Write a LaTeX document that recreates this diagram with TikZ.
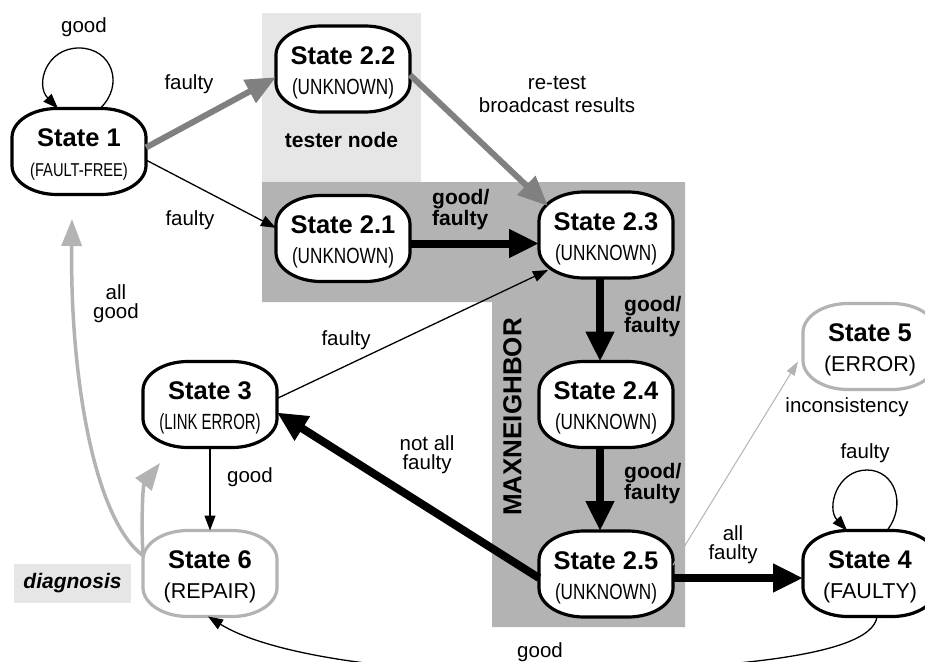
\documentclass[tikz,border=0pt]{standalone}
\usepackage{fontspec}
\setmainfont{Liberation Sans}
\usepackage{graphicx}
\usetikzlibrary{arrows.meta,calc}

\definecolor{boxdark}{HTML}{B3B3B3}
\definecolor{boxlight}{HTML}{E6E6E6}
\definecolor{arrgray}{HTML}{808080}
\definecolor{faint}{HTML}{B3B3B3}

% state title (bold, with a fixed-height strut) and a possibly condensed subtitle
\newcommand\stitle[1]{\rule{0pt}{20pt}{\fontsize{25.5}{30}\selectfont\bfseries #1}}
\newcommand\ssub[3]{{\fontsize{#1}{30}\selectfont\scalebox{#2}[1]{#3}}}
% a state: white oval box with elliptical corners, then the named text node on it
\newcommand\statenode[4]{%
  \draw[line width=3.2pt, fill=white, draw=#3] (#2) ++(-67,-14)
    arc[start angle=180, end angle=270, x radius=45, y radius=29] -- ++(44,0)
    arc[start angle=270, end angle=360, x radius=45, y radius=29] -- ++(0,28)
    arc[start angle=0, end angle=90, x radius=45, y radius=29] -- ++(-44,0)
    arc[start angle=90, end angle=180, x radius=45, y radius=29] -- cycle;
  \node[state] (#1) at (#2) {#4};}

\begin{document}
\begin{tikzpicture}[x=1pt,y=-1pt,
  state/.style={minimum width=134pt, minimum height=86pt, inner sep=0pt,
    outer sep=0pt, align=center, text depth=0pt, font=\fontsize{21}{30}\selectfont},
  lab/.style={font=\fontsize{20.5}{19}\selectfont, align=center, inner sep=0pt},
  blab/.style={font=\fontsize{21}{21}\selectfont\bfseries, align=left, inner sep=0pt},
  edgefine/.style={line width=1.3pt, -{Triangle[length=15pt,width=11pt]}},
  edgeheavy/.style={line width=8pt, -{Triangle[length=30pt,width=27pt]}},
  edgegray/.style={draw=arrgray, line width=6pt, -{Triangle[length=30pt,width=25pt]}},
  edgefaint/.style={draw=faint, line width=1pt, -{Triangle[length=14pt,width=9pt]}},
  edgesoft/.style={draw=faint, line width=3.5pt, -{Triangle[length=27pt,width=20pt]}},
]
\useasboundingbox (0,0) rectangle (925,661);
\clip (0,0) rectangle (925,661);

% background regions
\fill[boxlight] (262,13) rectangle (421,182);
\fill[boxdark] (262,182) -- (685,182) -- (685,627) -- (492,627) -- (492,302) -- (262,302) -- cycle;
\node[fill=boxlight, minimum width=117pt, minimum height=39pt, inner sep=0pt,
  font=\fontsize{21}{21}\selectfont\bfseries\itshape] (diag) at (72.5,583.5) {diagnosis};

% states
\statenode{s1}{79,151.5}{black}{\stitle{State 1}\\\ssub{18.6}{0.79}{(FAULT-FREE)}}
\statenode{s22}{343,69}{black}{\stitle{State 2.2}\\\ssub{22}{0.78}{(UNKNOWN)}}
\statenode{s21}{343,238.5}{black}{\stitle{State 2.1}\\\ssub{22}{0.78}{(UNKNOWN)}}
\statenode{s23}{606,235}{black}{\stitle{State 2.3}\\\ssub{22}{0.78}{(UNKNOWN)}}
\statenode{s24}{606,404.5}{black}{\stitle{State 2.4}\\\ssub{22}{0.78}{(UNKNOWN)}}
\statenode{s25}{606,574}{black}{\stitle{State 2.5}\\\ssub{22}{0.78}{(UNKNOWN)}}
\statenode{s3}{210,404.5}{black}{\stitle{State 3}\\\ssub{22}{0.68}{(LINK ERROR)}}
\statenode{s6}{210,573.5}{faint}{\stitle{State 6}\\\ssub{21.5}{1}{(REPAIR)}}
\statenode{s5}{870,346.5}{faint}{\stitle{State 5}\\\ssub{21.5}{1}{(ERROR)}}
\statenode{s4}{870,573.5}{black}{\stitle{State 4}\\\ssub{21.5}{1}{(FAULTY)}}

\coordinate (t3) at (160,463);

% transitions
\draw[edgefine] ([xshift=21pt]s1.north) .. controls (125,85) and (112,48) .. (79,48)
  .. controls (46,48) and (35,85) .. ([xshift=-21pt]s1.north);
\draw[edgegray] ([yshift=4pt]s1.east) -- (s22.187);
\draw[edgefine] ([yshift=-8.5pt]s1.east) -- (s21.171);
\draw[edgegray] (s22.355) -- ([shift={(-58,-29)}]s23.center);
\draw[edgeheavy] ([yshift=-5pt]s21.east) -- ([yshift=-5pt]s21.east -| s23.west);
\draw[edgeheavy] ([xshift=-6pt]s23.south) -- ([xshift=-6pt]s24.north);
\draw[edgeheavy] ([xshift=-6pt]s24.south) -- ([xshift=-6pt]s25.north);
\draw[edgeheavy] ([yshift=-4pt]s25.east) -- ([yshift=-4pt]s25.east -| s4.west);
\draw[edgeheavy] ([yshift=-4pt]s25.west) -- ([yshift=-8pt]s3.east);
\draw[edgefine] ([yshift=6pt]s3.east) -- ([shift={(-58,35)}]s23.center);
\draw[edgefaint] ([yshift=9pt]s25.east) -- ([shift={(-72,15)}]s5.center);
\draw[edgefine] (s3.south) -- (s6.north);
\draw[edgesoft] (s6.165) .. controls (141,520) and (143,485) .. (t3);
\draw[edgesoft] (s6.165) .. controls (95,520) and (70,380) .. ([shift={(-7,67.5)}]s1.center);
\draw[edgefine] ([xshift=17pt]s4.north) .. controls (907,505) and (895,470) .. (867,470)
  .. controls (837,470) and (826,508) .. ([xshift=-23pt]s4.north);
\draw[edgefine] ([xshift=7pt]s4.south) .. controls (872,660) and (700,670) .. (540,672)
  .. controls (400,674) and (270,655) .. ([xshift=-2pt]s6.south);

% transition labels
\node[lab] (lgood1) at (84,27) {good};
\node[lab] (lfaulty1) at (189,84) {faulty};
\node[lab] (lfaulty2) at (190,220) {faulty};
\node[lab, font=\fontsize{20.5}{23}\selectfont] (lretest) at (557,94) {re-test\\broadcast results};
\node[inner sep=0pt, font=\fontsize{21}{21}\selectfont\bfseries] (ltester) at (341.5,140) {tester node};
\node[blab, anchor=west] (lgf1) at (432,210) {good/\\faulty};
\node[blab, anchor=west] (lgf2) at (624,317) {good/\\faulty};
\node[blab, anchor=west] (lgf3) at (624,484) {good/\\faulty};
\node[inner sep=0pt, font=\fontsize{26}{26}\selectfont\bfseries, rotate=90] (lmax) at (512.5,417) {MAXNEIGHBOR};
\node[lab] (lfaulty3) at (346,340) {faulty};
\node[lab] (lnotall) at (427,455) {not all\\faulty};
\node[lab] (lallgood) at (116,304) {all\\good};
\node[lab] (lgood2) at (250,477) {good};
\node[lab] (lincons) at (847,407) {inconsistency};
\node[lab] (lfaulty4) at (865,453) {faulty};
\node[lab] (lallf) at (733,545) {all\\faulty};
\node[lab] (lgood3) at (540,652) {good};
\end{tikzpicture}
\end{document}
